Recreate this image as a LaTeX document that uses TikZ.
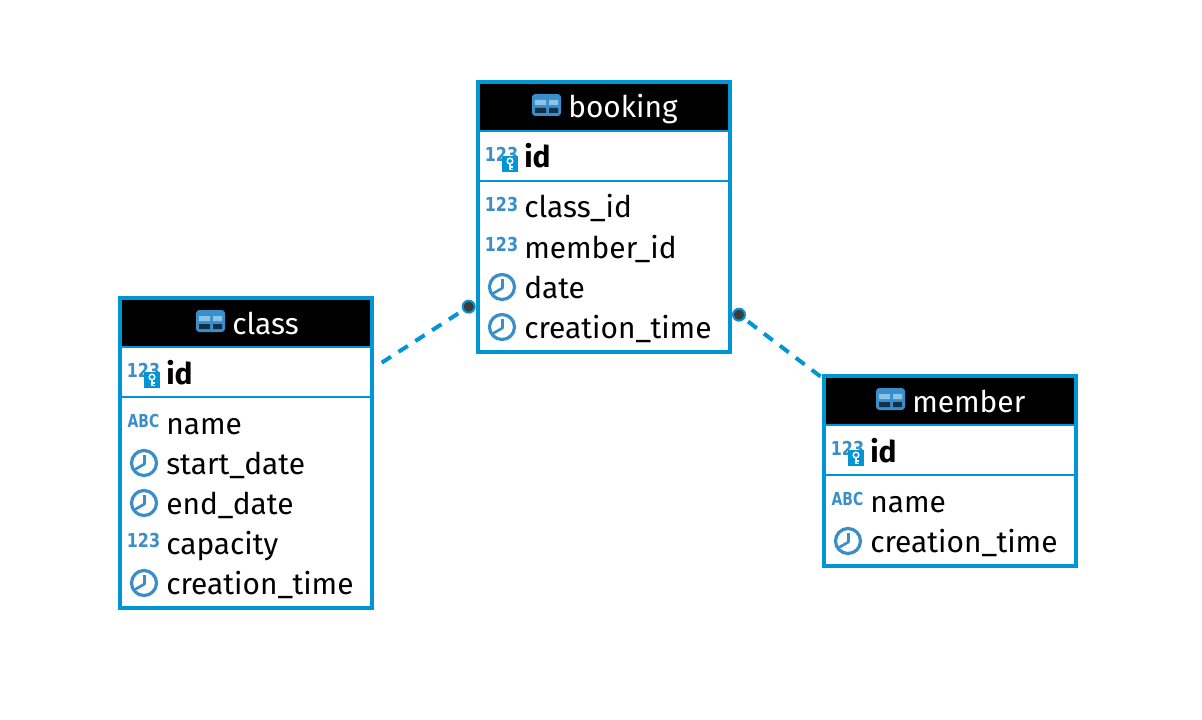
\documentclass[tikz,border=0pt]{standalone}
\usepackage{fontspec}
\setmainfont{Fira Sans}
\newfontfamily\iconfont{DejaVu Sans}
\usetikzlibrary{calc}

\definecolor{tableblue}{HTML}{0095D5}
\definecolor{iconblue}{HTML}{3A8FCB}
\definecolor{dotgray}{HTML}{3C3C3C}
\definecolor{celllight}{HTML}{8CC4E8}
\definecolor{celldark}{HTML}{123046}

\tikzset{
    framebox/.style={draw=tableblue,line width=3pt,fill=white,inner sep=0pt,outer sep=0pt,minimum width=189pt,anchor=north west},
    headbar/.style={fill=black,inner sep=0pt,minimum width=186pt,minimum height=34.5pt,anchor=north west},
    titletext/.style={text=white,anchor=base west,inner sep=0pt,font=\fontsize{22.4}{24}\selectfont},
    rowtext/.style={anchor=base west,inner sep=0pt,font=\fontsize{22.4}{24}\selectfont},
    keytext/.style={rowtext,font=\fontsize{22.4}{24}\selectfont\bfseries},
    sepline/.style={draw=tableblue,line width=1.5pt},
    relline/.style={draw=tableblue,line width=3pt,dash pattern=on 8.25pt off 6.75pt},
    enddot/.style={circle,draw=tableblue,fill=dotgray,line width=1.5pt,minimum size=9pt,inner sep=0pt},
    pics/num icon/.style={code={
        \node[text=iconblue,font=\iconfont\fontsize{14.4}{16}\bfseries\selectfont,inner sep=0pt] at (-22.5,-2) {\scalebox{.83}[1]{123}};
    }},
    pics/abc icon/.style={code={
        \node[text=iconblue,font=\iconfont\fontsize{13.4}{16}\bfseries\selectfont,inner sep=0pt] at (-22.5,-2.5) {\scalebox{.78}[1]{ABC}};
    }},
    pics/clock icon/.style={code={
        \draw[iconblue,line width=2.4pt] (-22,0) circle (12.5);
        \draw[iconblue,line width=2pt,line join=round] (-21.5,-8) -- (-21.5,1) -- (-32,7);
    }},
    pics/key icon/.style={code={
        \fill[tableblue] (-22,-1) rectangle (-6,15);
        \draw[white,line width=1.1pt] (-14,4) circle (2.8);
        \draw[white,line width=1.4pt] (-14,7) -- (-14,13) (-14,10) -- (-11,10) (-14,12.5) -- (-11,12.5);
    }},
    pics/table icon/.style={code={
        \fill[iconblue,rounded corners=2.5pt] (0,0) rectangle (29,22);
        \fill[celllight] (3,6) rectangle (14,11) (17,6) rectangle (26,11);
        \fill[celldark] (3,14) rectangle (14,19) (17,14) rectangle (26,19);
    }},
}

% one table: name, left, top, inner height, title offset, rows
\newcommand{\dbtable}[6]{
    \begin{scope}[shift={(#2,#3)}]
        \node[framebox,minimum height=#4*0.75pt] (#1) at (0,0) {};
        \node[headbar] (#1head) at (2,2) {};
        \pic at (#5,12) {table icon};
        \node[titletext] (#1title) at (#5+36,36) {#1};
        \draw[sepline] (#1.west |- 0,49) -- (#1.east |- 0,49);
        \draw[sepline] (#1.west |- 0,99) -- (#1.east |- 0,99);
        \pic at (46,75) {num icon};
        \pic at (46,75) {key icon};
        \node[keytext] (#1id) at (46,86) {id};
        \foreach \icn/\txt [count=\i] in {#6} {
            \pic at (46,85+40*\i) {\icn\space icon};
            \node[rowtext] (#1row\i) at (46,96+40*\i) {\txt};
        }
    \end{scope}
}

\begin{document}
\begin{tikzpicture}[x=0.75pt,y=-0.75pt]
    \useasboundingbox (0,0) rectangle (1202,720);

    \coordinate (classend) at (381.7,362.7);
    \coordinate (memberend) at (820.5,376.5);
    \coordinate (bookingl) at (468.7,306.7);
    \coordinate (bookingr) at (739,314.7);

    % relations go under the dots
    \draw[relline] (classend) -- (bookingl);
    \draw[relline] (memberend) -- (bookingr);
    \node[enddot] (bookingdotl) at (bookingl) {};
    \node[enddot] (bookingdotr) at (bookingr) {};

    \dbtable{booking}{478}{82}{270}{54}{num/class\_id,num/member\_id,clock/date,clock/creation\_time}
    \dbtable{class}{120}{298}{310}{76}{abc/name,clock/start\_date,clock/end\_date,num/capacity,clock/creation\_time}
    \dbtable{member}{824}{376}{190}{52}{abc/name,clock/creation\_time}
\end{tikzpicture}
\end{document}
